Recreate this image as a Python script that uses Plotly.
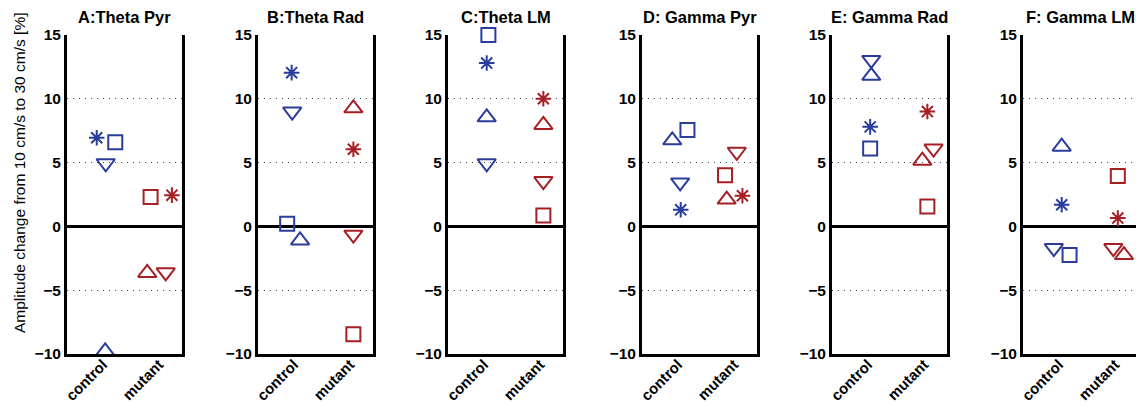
import plotly.graph_objects as go

# ---------------- data ----------------
panel_titles = ["A:Theta Pyr", "B:Theta Rad", "C:Theta LM",
                "D: Gamma Pyr", "E: Gamma Rad", "F: Gamma LM"]
groups = ["control", "mutant"]
y_ticks = [-10, -5, 0, 5, 10, 15]
y_title = "Amplitude change from 10 cm/s to 30 cm/s [%]"

# control (blue) values per panel A..F
ctrl_star    = [6.95, 12.05, 12.8, 1.3, 7.8, 1.7]
ctrl_square  = [6.6, 0.2, 15.0, 7.55, 6.1, -2.25]
ctrl_tridown = [4.95, 9.0, 4.95, 3.45, 13.05, -1.7]
ctrl_triup   = [-9.8, -1.1, 8.55, 6.75, 11.8, 6.25]
# mutant (red) values per panel A..F
mut_star    = [2.45, 6.05, 10.0, 2.4, 9.0, 0.65]
mut_square  = [2.3, -8.45, 0.85, 4.0, 1.55, 3.95]
mut_tridown = [-3.6, -0.65, 3.55, 5.85, 6.1, -1.7]
mut_triup   = [-3.65, 9.25, 7.95, 2.1, 5.15, -2.25]

# horizontal positions (category 1 = control, 2 = mutant, with jitter)
ctrl_star_x    = [0.83, 0.90, 0.99, 0.99, 0.98, 0.99]
ctrl_square_x  = [1.16, 0.82, 1.02, 1.11, 0.98, 1.13]
ctrl_tridown_x = [0.99, 0.91, 0.99, 0.98, 1.00, 0.85]
ctrl_triup_x   = [0.98, 1.05, 0.99, 0.84, 1.00, 0.99]
mut_star_x    = [2.17, 2.00, 2.00, 2.09, 2.00, 1.99]
mut_square_x  = [1.79, 2.00, 2.00, 1.78, 2.00, 1.99]
mut_tridown_x = [2.06, 2.00, 2.00, 1.99, 2.11, 1.91]
mut_triup_x   = [1.73, 2.00, 2.00, 1.81, 1.91, 2.10]

# ---------------- style ----------------
W, H = 1136, 404
BLUE = "#2a3c9c"
RED = "#a61f25"
FONT = "Liberation Sans, Arial, Helvetica, sans-serif"
symbols = ["asterisk-open", "square-open", "triangle-down-open", "triangle-up-open"]
sym_sizes = [13, 14, 16, 16]
label_pos = [0.94, 1.94]   # where the rotated category labels sit

panel_left = [67, 258, 448, 642, 832, 1023]   # px
panel_w = 115
plot_top, plot_bot = 35, 354
x_lo = 0.3
px_per_unit = 56.1

fig = go.Figure()
ydom = [1 - plot_bot / H, 1 - plot_top / H]

ctrl_vals = [ctrl_star, ctrl_square, ctrl_tridown, ctrl_triup]
ctrl_xs = [ctrl_star_x, ctrl_square_x, ctrl_tridown_x, ctrl_triup_x]
mut_vals = [mut_star, mut_square, mut_tridown, mut_triup]
mut_xs = [mut_star_x, mut_square_x, mut_tridown_x, mut_triup_x]

for i, title in enumerate(panel_titles):
    n = "" if i == 0 else str(i + 1)
    left = panel_left[i]
    right = min(left + panel_w, W)
    x_hi = x_lo + (right - left) / px_per_unit
    for vals, xs, col in [(ctrl_vals, ctrl_xs, BLUE), (mut_vals, mut_xs, RED)]:
        fig.add_trace(go.Scatter(
            x=[a[i] for a in xs], y=[v[i] for v in vals],
            mode="markers", xaxis="x" + n, yaxis="y" + n, showlegend=False,
            cliponaxis=False,
            marker=dict(symbol=symbols, size=sym_sizes, color=col, opacity=1,
                        line=dict(width=2, color=col)),
            hoverinfo="skip"))
    last = i == len(panel_titles) - 1
    fig.layout["xaxis" + n] = dict(
        domain=[left / W, right / W], range=[x_lo, x_hi], automargin=False,
        tickvals=label_pos, ticktext=groups, tickangle=-45,
        ticklabelstandoff=-7,
        tickfont=dict(family=FONT, size=15, color="black", weight="bold"),
        showline=True, linecolor="black", linewidth=3, mirror=False,
        showgrid=False, zeroline=False, ticks="", anchor="y" + n, fixedrange=True)
    fig.layout["yaxis" + n] = dict(
        domain=ydom, range=[-10, 15], automargin=False,
        tickvals=y_ticks,
        tickfont=dict(family=FONT, size=15.5, color="black", weight="bold"),
        showline=True, linecolor="black", linewidth=3,
        mirror=False if last else True,
        showgrid=True, gridcolor="#444444", gridwidth=1, griddash="1px,5px",
        zeroline=True, zerolinecolor="black", zerolinewidth=3,
        ticks="", anchor="x" + n, fixedrange=True)
    fig.add_annotation(
        text=title, xref="paper", yref="paper",
        x=(left + (left + panel_w)) / 2 / W, y=1 - 17 / H,
        xanchor="center", yanchor="middle", showarrow=False,
        font=dict(family=FONT, size=16.5, color="black", weight="bold"))

fig.add_annotation(
    text=y_title, xref="paper", yref="paper", x=20 / W, y=1 - 173 / H,
    xanchor="center", yanchor="middle", textangle=-90, showarrow=False,
    font=dict(family=FONT, size=15.5, color="black"))

fig.update_layout(width=W, height=H, margin=dict(l=0, r=0, t=0, b=0),
                  template="none",
                  paper_bgcolor="white", plot_bgcolor="white")
fig.write_html("out.html")
